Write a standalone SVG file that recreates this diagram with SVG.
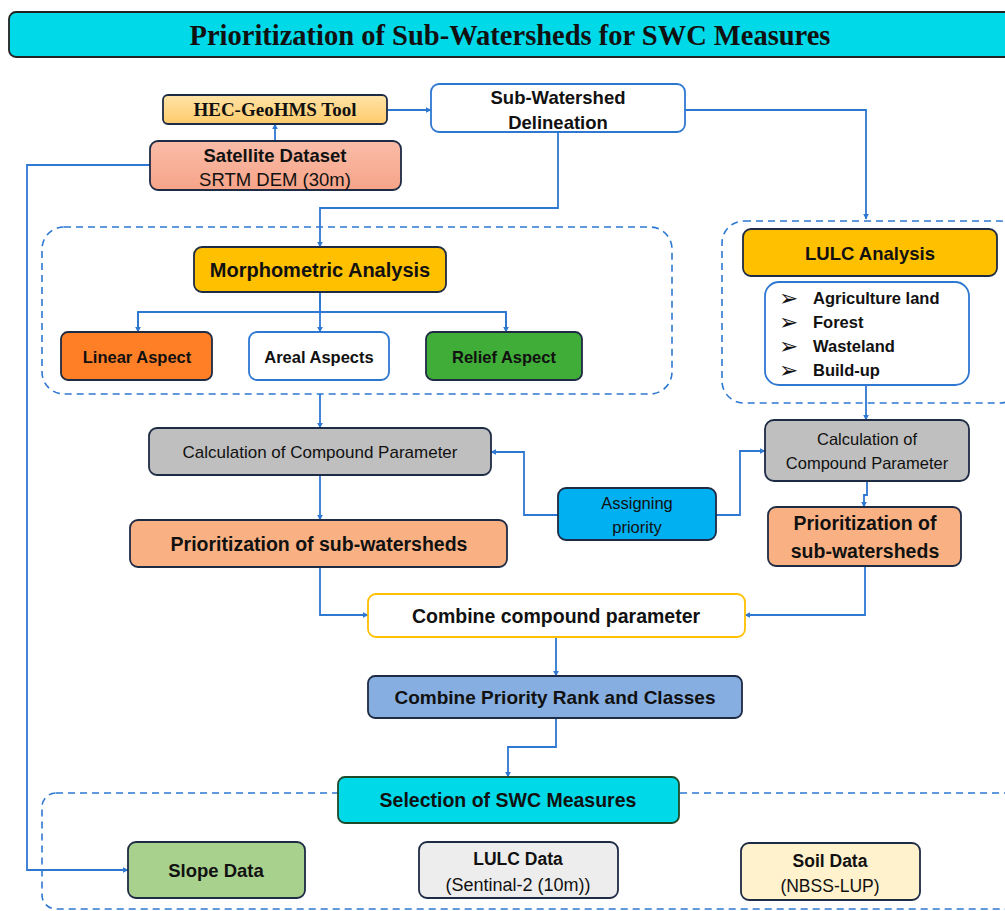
<svg xmlns="http://www.w3.org/2000/svg" width="1005" height="911" viewBox="0 0 1005 911">
<defs>
<marker id="ah" viewBox="0 0 10 10" refX="9" refY="5" markerWidth="6" markerHeight="6" orient="auto" markerUnits="userSpaceOnUse">
<path d="M0,0 L10,5 L0,10 z" fill="#2E78D2"/>
</marker>
<linearGradient id="gHec" x1="0" y1="0" x2="0" y2="1"><stop offset="0" stop-color="#FFE3A6"/><stop offset="1" stop-color="#FFCB6B"/></linearGradient>
<linearGradient id="gSat" x1="0" y1="0" x2="0" y2="1"><stop offset="0" stop-color="#F9BCA8"/><stop offset="1" stop-color="#F7A488"/></linearGradient>
</defs>
<style>
.box{stroke:#1E2B45;stroke-width:1.8}
.wb{fill:#fff;stroke:#2E78D2;stroke-width:1.8}
.dash{fill:none;stroke:#2E78D2;stroke-width:1.6;stroke-dasharray:7 5}
.c{fill:none;stroke:#2E78D2;stroke-width:1.8}
.t{font-family:"Liberation Sans",Arial,sans-serif;fill:#111;text-anchor:middle}
.b{font-weight:bold}
</style>
<g id="title">
<rect x="9" y="12" width="1010" height="45" rx="7" fill="#00D9E8" stroke="#222" stroke-width="1.8"/>
<text x="510" y="45" font-family="Liberation Serif,'Times New Roman',serif" font-weight="bold" font-size="28.5" text-anchor="middle" fill="#111">Prioritization of Sub-Watersheds for SWC Measures</text>
</g>
<g id="dashed-boxes">
<rect class="dash" x="42" y="227" width="630" height="167" rx="22"/>
<rect class="dash" x="722" y="221" width="300" height="182" rx="22"/>
<rect class="dash" x="42" y="793" width="980" height="116" rx="14"/>
</g>
<g id="connectors">
<path class="c" d="M275,141 V124" marker-end="url(#ah)"/>
<path class="c" d="M387,110 H431" marker-end="url(#ah)"/>
<path class="c" d="M150,165 H27 V870 H128" marker-end="url(#ah)"/>
<path class="c" d="M558,132 V208 H320 V247" marker-end="url(#ah)"/>
<path class="c" d="M685,110 H866 V219" marker-end="url(#ah)"/>
<path class="c" d="M320,292 V312 M138,332 V312 H506 V332" />
<path class="c" d="M138,312 V332" marker-end="url(#ah)"/>
<path class="c" d="M320,292 V332" marker-end="url(#ah)"/>
<path class="c" d="M506,312 V332" marker-end="url(#ah)"/>
<path class="c" d="M866,385 V420" marker-end="url(#ah)"/>
<path class="c" d="M867,481 V495 H864 V507" marker-end="url(#ah)"/>
<path class="c" d="M320,394 V428" marker-end="url(#ah)"/>
<path class="c" d="M558,515 H524 V452 H491" marker-end="url(#ah)"/>
<path class="c" d="M716,515 H740 V451 H765" marker-end="url(#ah)"/>
<path class="c" d="M320,475 V520" marker-end="url(#ah)"/>
<path class="c" d="M320,567 V615 H368" marker-end="url(#ah)"/>
<path class="c" d="M865,566 V615 H745" marker-end="url(#ah)"/>
<path class="c" d="M556,637 V676" marker-end="url(#ah)"/>
<path class="c" d="M556,718 V747 H508 V777" marker-end="url(#ah)"/>
</g>
<g id="hec">
<rect class="box" x="163" y="95" width="224" height="29" rx="5" fill="url(#gHec)"/>
<text x="275" y="116" font-family="Liberation Serif,'Times New Roman',serif" font-weight="bold" font-size="19" text-anchor="middle" fill="#111">HEC-GeoHMS Tool</text>
</g>
<g id="subw">
<rect class="wb" x="431" y="84" width="254" height="48" rx="8"/>
<text class="t b" x="558" y="104" font-size="18.5">Sub-Watershed</text>
<text class="t b" x="558" y="129" font-size="18.5">Delineation</text>
</g>
<g id="satellite">
<rect class="box" x="150" y="141" width="251" height="49" rx="8" fill="url(#gSat)"/>
<text class="t b" x="275" y="162" font-size="18.5">Satellite Dataset</text>
<text class="t" x="275" y="186" font-size="18.5">SRTM DEM (30m)</text>
</g>
<g id="morph">
<rect class="box" x="194" y="247" width="252" height="45" rx="8" fill="#FFC000"/>
<text class="t b" x="320" y="277" font-size="20">Morphometric Analysis</text>
</g>
<g id="linear">
<rect class="box" x="61" y="332" width="151" height="48" rx="7" fill="#FF7F27"/>
<text class="t b" x="137" y="363" font-size="16.5">Linear Aspect</text>
</g>
<g id="areal">
<rect class="wb" x="249" y="332" width="140" height="48" rx="8"/>
<text class="t b" x="319" y="363" font-size="16.5">Areal Aspects</text>
</g>
<g id="relief">
<rect class="box" x="426" y="332" width="156" height="48" rx="7" fill="#40AD38"/>
<text class="t b" x="504" y="363" font-size="16.5">Relief Aspect</text>
</g>
<g id="lulc">
<rect class="box" x="743" y="229" width="254" height="47" rx="8" fill="#FFC000"/>
<text class="t b" x="870" y="260" font-size="18.5">LULC Analysis</text>
</g>
<g id="lulc-list">
<rect class="wb" x="765" y="282" width="204" height="103" rx="14"/>
<g font-family="'DejaVu Sans',sans-serif" font-size="23" fill="#111">
<text x="779" y="306">➢</text><text x="779" y="330">➢</text><text x="779" y="354">➢</text><text x="779" y="378">➢</text>
</g>
<g font-family="'Liberation Sans',Arial,sans-serif" font-weight="bold" font-size="16.5" fill="#111">
<text x="813" y="304">Agriculture land</text>
<text x="813" y="328">Forest</text>
<text x="813" y="352">Wasteland</text>
<text x="813" y="376">Build-up</text>
</g>
</g>
<g id="calc-right">
<rect class="box" x="765" y="420" width="204" height="61" rx="9" fill="#BFBFBF"/>
<text class="t" x="867" y="445" font-size="16.5" fill="#222">Calculation of</text>
<text class="t" x="867" y="469" font-size="16.5" fill="#222">Compound Parameter</text>
</g>
<g id="prior-right">
<rect class="box" x="768" y="507" width="193" height="59" rx="8" fill="#F9B183"/>
<text class="t b" x="865" y="530" font-size="19.5">Prioritization of</text>
<text class="t b" x="865" y="558" font-size="19.5">sub-watersheds</text>
</g>
<g id="calc-left">
<rect class="box" x="149" y="428" width="342" height="47" rx="8" fill="#BFBFBF"/>
<text class="t" x="320" y="458" font-size="17" fill="#222">Calculation of Compound Parameter</text>
</g>
<g id="assign">
<rect class="box" x="558" y="488" width="158" height="52" rx="8" fill="#00B0F0"/>
<text class="t" x="637" y="509" font-size="16.5" fill="#222">Assigning</text>
<text class="t" x="637" y="533" font-size="16.5" fill="#222">priority</text>
</g>
<g id="prior-left">
<rect class="box" x="130" y="520" width="377" height="47" rx="8" fill="#F9B183"/>
<text class="t b" x="319" y="551" font-size="19.5">Prioritization of sub-watersheds</text>
</g>
<g id="combine">
<rect x="368" y="594" width="377" height="43" rx="8" fill="#fff" stroke="#FFC000" stroke-width="1.8"/>
<text class="t b" x="556" y="623" font-size="19.5">Combine compound parameter</text>
</g>
<g id="rank">
<rect class="box" x="368" y="676" width="374" height="42" rx="7" fill="#86AEE0"/>
<text class="t b" x="555" y="704" font-size="19">Combine Priority Rank and Classes</text>
</g>
<g id="selection">
<rect x="338" y="777" width="341" height="46" rx="7" fill="#00D9E8" stroke="#1E4A2A" stroke-width="1.8"/>
<text class="t b" x="508" y="807" font-size="19.5">Selection of SWC Measures</text>
</g>
<g id="slope">
<rect class="box" x="128" y="842" width="177" height="56" rx="8" fill="#A9D18E"/>
<text class="t b" x="216" y="877" font-size="18.5">Slope Data</text>
</g>
<g id="lulc-data">
<rect class="box" x="419" y="842" width="199" height="56" rx="8" fill="#EDEDED"/>
<text class="t b" x="518" y="865" font-size="17.5">LULC Data</text>
<text class="t" x="518" y="891" font-size="18" fill="#222">(Sentinal-2 (10m))</text>
</g>
<g id="soil">
<rect class="box" x="741" y="843" width="179" height="57" rx="8" fill="#FFF2CC"/>
<text class="t b" x="830" y="867" font-size="17.5">Soil Data</text>
<text class="t" x="830" y="892" font-size="17.5" fill="#222">(NBSS-LUP)</text>
</g>
</svg>
